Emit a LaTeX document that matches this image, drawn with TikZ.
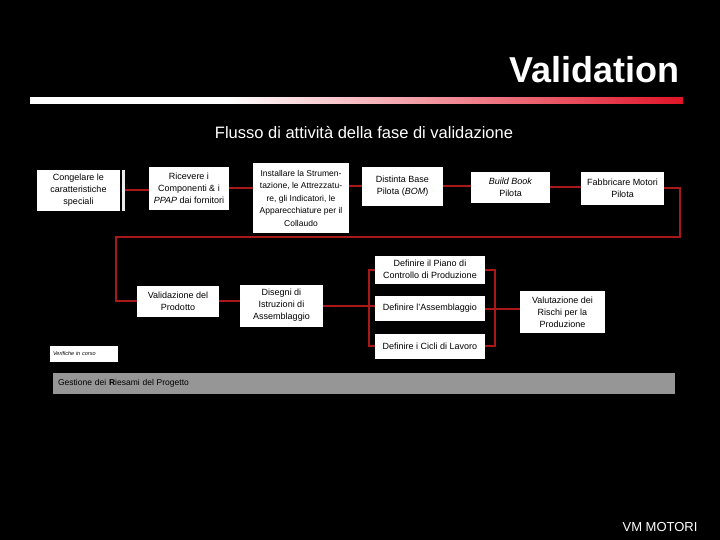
\documentclass[tikz,border=0pt]{standalone}
\usepackage{fontspec}
\setmainfont{Liberation Sans}
\usetikzlibrary{calc}
\definecolor{lred}{RGB}{170,25,25}
\definecolor{slred}{RGB}{225,20,40}
\definecolor{bargray}{RGB}{150,150,150}
\pgfdeclarehorizontalshading{rulefade}{100bp}{color(0bp)=(white); color(40bp)=(white); color(75bp)=(slred); color(100bp)=(slred)}
\tikzstyle{bx}=[fill=white,text=black,align=center,inner sep=1pt,font=\fontsize{9}{12}\selectfont]
\tikzstyle{rl}=[draw=lred,line width=2pt]

\begin{document}
\begin{tikzpicture}[x=1pt,y=-1pt]
\fill[black] (0,0) rectangle (720,540);
\useasboundingbox (0,0) rectangle (720,540);
% title and rule
\node[anchor=east,text=white,font=\fontsize{36}{40}\selectfont\bfseries] (tit) at (683,70) {Validation};
\shade[shading=rulefade] (30,98) rectangle (683,104);
\node[text=white,font=\fontsize{16.5}{18}\selectfont] (sub) at (364,133) {Flusso di attività della fase di validazione};
% first row
\node[bx,minimum width=83,minimum height=41] (cong) at (78.5,190.5) {Congelare le\\caratteristiche\\speciali};
\node[fill=white!85!gray,minimum width=3,minimum height=41,inner sep=0] (cbar) at (123,190.5) {};
\node[bx,minimum width=80,minimum height=43] (ric) at (189,188.5) {Ricevere i\\Componenti \& i\\\textit{PPAP} dai fornitori};
\node[bx,minimum width=96,minimum height=70,font=\fontsize{8.5}{12.5}\selectfont] (inst) at (301,198) {Installare la Strumen-\\tazione, le Attrezzatu-\\re, gli Indicatori, le\\Apparecchiature per il\\Collaudo};
\node[bx,minimum width=81,minimum height=39] (dist) at (402.5,186.5) {Distinta Base\\Pilota (\textit{BOM})};
\node[bx,minimum width=79,minimum height=31] (bb) at (510.5,187.5) {\textit{Build Book}\\Pilota};
\node[bx,minimum width=83,minimum height=33] (fab) at (622.5,188.5) {Fabbricare Motori\\Pilota};
% second row
\node[bx,minimum width=82,minimum height=31] (val) at (178,301) {Validazione del\\Prodotto};
\node[bx,minimum width=83,minimum height=42] (dis) at (281.5,305.5) {Disegni di\\Istruzioni di\\Assemblaggio};
\node[bx,minimum width=110,minimum height=28] (piano) at (430,269.5) {Definire il Piano di\\Controllo di Produzione};
\node[bx,minimum width=110,minimum height=25] (ass) at (430,308.5) {Definire l'Assemblaggio};
\node[bx,minimum width=110,minimum height=25] (cicli) at (430,346) {Definire i Cicli di Lavoro};
\node[bx,minimum width=85,minimum height=42] (rischi) at (562.5,312) {Valutazione dei\\Rischi per la\\Produzione};
% bottom
\node[bx,minimum width=68,minimum height=16,text width=62,align=left,font=\fontsize{5.5}{6}\selectfont\itshape] (verif) at (84,354) {Verifiche in corso};
\node[fill=bargray,text=black,text width=612,inner xsep=5,minimum height=21,align=left,font=\fontsize{8.5}{10}\selectfont] (gest) at (364,383.5) {Gestione dei \textbf{R}iesami del Progetto};
\node[anchor=east,text=white,font=\fontsize{13}{15}\selectfont] (vm) at (701,527) {VM MOTORI};
% connectors
\coordinate (c1) at (680,237);
\coordinate (c2) at (116,237);
\draw[rl] (cbar.east) -- (cbar.east -| ric.west);
\draw[rl] (ric.east) -- (ric.east -| inst.west);
\draw[rl] (dist.west -| inst.east) -- (dist.west);
\draw[rl] (dist.east) -- (dist.east -| bb.west);
\draw[rl] (bb.east) -- (bb.east -| fab.west);
\draw[rl] (fab.east) -| (c1) -- (c2) |- (val.west);
\draw[rl] (val.east) -- (val.east -| dis.west);
\draw[rl] (dis.east) -- (dis.east -| ass.west);
\draw[rl] (piano.west) -- ++(-6,0) |- (cicli.west);
\draw[rl] (piano.east) -- ++(10,0) |- (cicli.east);
\draw[rl] (ass.east) -- (ass.east -| rischi.west);
\end{tikzpicture}
\end{document}
